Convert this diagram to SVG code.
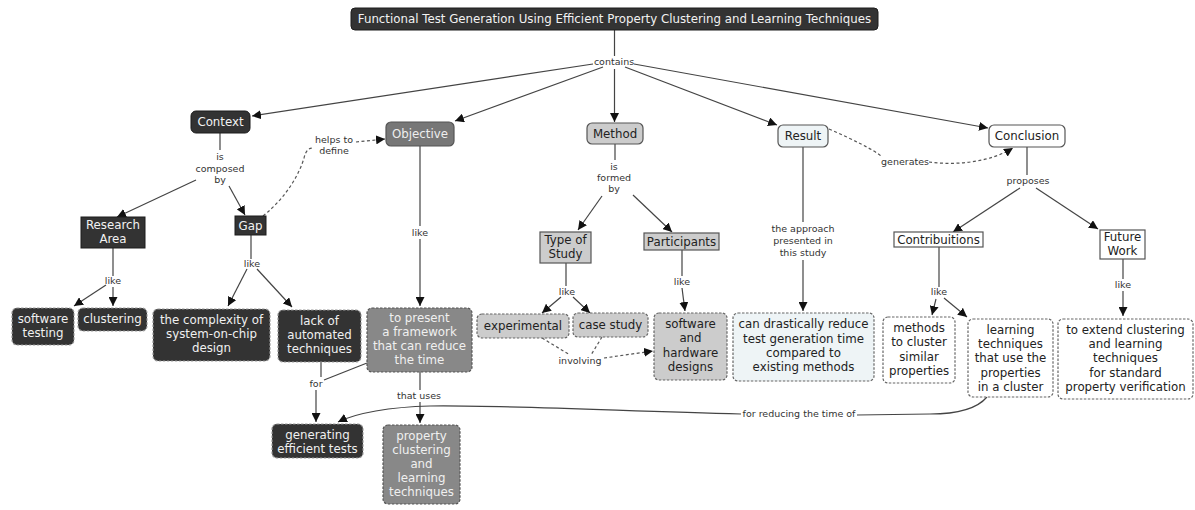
<svg xmlns="http://www.w3.org/2000/svg" width="1195" height="510" viewBox="0 0 1195 510">
  <defs>
    <marker id="arrow" viewBox="0 0 10 10" refX="10" refY="5" markerWidth="9" markerHeight="9" markerUnits="userSpaceOnUse" orient="auto">
      <path d="M0,0 L10,5 L0,10 z" fill="#111"/>
    </marker>
    <style>
      text { font-family: "DejaVu Sans", Verdana, sans-serif; text-anchor: middle; }
      .nt { font-size: 11.8px; }
      .lbl { font-size: 9.5px; fill: #333; }
      .link { fill: none; stroke: #444; stroke-width: 1.2; }
      .dash { fill: none; stroke: #555; stroke-width: 1.2; stroke-dasharray: 3 2.5; }
      .dark rect { fill: #333; stroke: #1c1c1c; stroke-width: 1; }
      .dark text { fill: #f2f2f2; }
      .darkleaf rect { fill: #333; stroke: #999; stroke-width: 1.2; stroke-dasharray: 2.5 1.5; }
      .darkleaf text { fill: #f0f0f0; }
      .mid rect { fill: #777; stroke: #555; stroke-width: 1.2; }
      .mid text { fill: #eee; }
      .midleaf rect { fill: #888; stroke: #555; stroke-width: 1.2; stroke-dasharray: 2.5 1.5; }
      .midleaf text { fill: #f0f0f0; }
      .light rect { fill: #ccc; stroke: #555; stroke-width: 1.2; }
      .light text { fill: #222; }
      .lightleaf rect { fill: #ccc; stroke: #666; stroke-width: 1.2; stroke-dasharray: 2.5 1.5; }
      .lightleaf text { fill: #222; }
      .pale rect { fill: #eef4f6; stroke: #555; stroke-width: 1.2; }
      .pale text { fill: #222; }
      .paleleaf rect { fill: #eef4f6; stroke: #666; stroke-width: 1.2; stroke-dasharray: 2.5 1.5; }
      .paleleaf text { fill: #222; }
      .white rect { fill: #fff; stroke: #555; stroke-width: 1.2; }
      .white text { fill: #222; }
      .whiteleaf rect { fill: #fff; stroke: #666; stroke-width: 1.2; stroke-dasharray: 2.5 1.5; }
      .whiteleaf text { fill: #222; }
    </style>
  </defs>
  <rect width="1195" height="510" fill="#fff"/>

  <!-- connectors and linking phrases -->
  <g id="connectors">
    <!-- contains -->
    <path class="link" d="M614.5,30 V56"/>
    <path class="link" d="M593,64 L252,116" marker-end="url(#arrow)"/>
    <path class="link" d="M603,67 L455,121" marker-end="url(#arrow)"/>
    <path class="link" d="M614.5,69 V122" marker-end="url(#arrow)"/>
    <path class="link" d="M625,67 L777,125" marker-end="url(#arrow)"/>
    <path class="link" d="M634,64 L988,128" marker-end="url(#arrow)"/>
    <text class="lbl" x="614" y="65">contains</text>

    <!-- Context: is composed by -->
    <path class="link" d="M220,133 V150"/>
    <path class="link" d="M196,180 L117,217" marker-end="url(#arrow)"/>
    <path class="link" d="M229,186 L245,215" marker-end="url(#arrow)"/>
    <text class="lbl" x="220" y="160">is</text>
    <text class="lbl" x="220" y="172">composed</text>
    <text class="lbl" x="220" y="183">by</text>

    <!-- Gap helps to define Objective -->
    <path class="dash" d="M263,216 C288,196 300,172 304,158 C306,150 309,148 313,148"/>
    <path class="dash" d="M356,142 L385,139" marker-end="url(#arrow)"/>
    <text class="lbl" x="334" y="143">helps to</text>
    <text class="lbl" x="334" y="154">define</text>

    <!-- Research Area like -->
    <path class="link" d="M113,248 V276"/>
    <path class="link" d="M113,287 V306" marker-end="url(#arrow)"/>
    <path class="link" d="M106,285 L74,306" marker-end="url(#arrow)"/>
    <text class="lbl" x="113" y="284">like</text>

    <!-- Gap like -->
    <path class="link" d="M251,235 V259"/>
    <path class="link" d="M247,269 L228,306" marker-end="url(#arrow)"/>
    <path class="link" d="M257,269 L292,307" marker-end="url(#arrow)"/>
    <text class="lbl" x="252" y="267">like</text>

    <!-- for generating efficient tests -->
    <path class="link" d="M321,362 V377"/>
    <path class="link" d="M367,363 L324,380"/>
    <path class="link" d="M316,390 V422" marker-end="url(#arrow)"/>
    <text class="lbl" x="316" y="387">for</text>

    <!-- Objective like -->
    <path class="link" d="M420,146 V226"/>
    <path class="link" d="M420,239 V306" marker-end="url(#arrow)"/>
    <text class="lbl" x="420" y="236">like</text>

    <!-- that uses -->
    <path class="link" d="M420,372 V390"/>
    <path class="link" d="M420,402 V423" marker-end="url(#arrow)"/>
    <text class="lbl" x="419" y="399">that uses</text>

    <!-- Method is formed by -->
    <path class="link" d="M615,144 V160"/>
    <path class="link" d="M602,196 L578,230" marker-end="url(#arrow)"/>
    <path class="link" d="M633,195 L672,232" marker-end="url(#arrow)"/>
    <text class="lbl" x="614" y="170">is</text>
    <text class="lbl" x="614" y="181">formed</text>
    <text class="lbl" x="614" y="192">by</text>

    <!-- Type of Study like -->
    <path class="link" d="M566,263 V286"/>
    <path class="link" d="M561,297 L542,313" marker-end="url(#arrow)"/>
    <path class="link" d="M573,297 L590,313" marker-end="url(#arrow)"/>
    <text class="lbl" x="567" y="295">like</text>

    <!-- Participants like -->
    <path class="link" d="M682,250 V276"/>
    <path class="link" d="M682,288 L685,311" marker-end="url(#arrow)"/>
    <text class="lbl" x="682" y="285">like</text>

    <!-- involving -->
    <path class="dash" d="M542,338 L570,355"/>
    <path class="dash" d="M602,337 L591,355"/>
    <path class="dash" d="M604,358 L653,351" marker-end="url(#arrow)"/>
    <text class="lbl" x="580" y="364">involving</text>

    <!-- Result: the approach presented in this study -->
    <path class="link" d="M803,147 V222"/>
    <path class="link" d="M803,260 V311" marker-end="url(#arrow)"/>
    <text class="lbl" x="803" y="232">the approach</text>
    <text class="lbl" x="803" y="244">presented in</text>
    <text class="lbl" x="803" y="256">this study</text>

    <!-- Result generates Conclusion -->
    <path class="dash" d="M829,129 C852,139 874,150 881,156"/>
    <path class="dash" d="M929,162 C960,166 992,161 1013,148" marker-end="url(#arrow)"/>
    <text class="lbl" x="905" y="165">generates</text>

    <!-- Conclusion proposes -->
    <path class="link" d="M1027,147 V175"/>
    <path class="link" d="M1020,188 L953,232" marker-end="url(#arrow)"/>
    <path class="link" d="M1036,188 L1098,229" marker-end="url(#arrow)"/>
    <text class="lbl" x="1028" y="184">proposes</text>

    <!-- Contribuitions like -->
    <path class="link" d="M939,247 V287"/>
    <path class="link" d="M936,299 L932,315" marker-end="url(#arrow)"/>
    <path class="link" d="M944,298 L967,317" marker-end="url(#arrow)"/>
    <text class="lbl" x="939" y="295">like</text>

    <!-- Future Work like -->
    <path class="link" d="M1123,259 V279"/>
    <path class="link" d="M1123,291 V316" marker-end="url(#arrow)"/>
    <text class="lbl" x="1123" y="288">like</text>

    <!-- for reducing the time of -->
    <path class="link" d="M987,397 C976,410 955,414 930,414 L857,415"/>
    <path class="link" d="M741,414 C600,410 500,405 430,406 C390,407 356,413 338,422" marker-end="url(#arrow)"/>
    <text class="lbl" x="799" y="417">for reducing the time of</text>
  </g>

  <!-- title -->
  <g id="title" class="dark">
    <rect x="351" y="8" width="527" height="22" rx="4"/>
    <text class="nt" x="614.5" y="23">Functional Test Generation Using Efficient Property Clustering and Learning Techniques</text>
  </g>

  <!-- main sections -->
  <g id="context" class="dark">
    <rect x="191" y="111" width="59" height="22" rx="5"/>
    <text class="nt" x="220.5" y="126">Context</text>
  </g>
  <g id="objective" class="mid">
    <rect x="386" y="122" width="68" height="24" rx="5"/>
    <text class="nt" x="420" y="138">Objective</text>
  </g>
  <g id="method" class="light">
    <rect x="587" y="123" width="56" height="21" rx="5"/>
    <text class="nt" x="615" y="138">Method</text>
  </g>
  <g id="result" class="pale">
    <rect x="778" y="125" width="50" height="22" rx="5"/>
    <text class="nt" x="803" y="140">Result</text>
  </g>
  <g id="conclusion" class="white">
    <rect x="989" y="125" width="76" height="22" rx="5"/>
    <text class="nt" x="1027" y="140">Conclusion</text>
  </g>

  <!-- context branch -->
  <g id="research-area" class="dark">
    <rect x="81" y="217" width="64" height="31"/>
    <text class="nt" x="113" y="229">Research</text>
    <text class="nt" x="113" y="243">Area</text>
  </g>
  <g id="gap" class="dark">
    <rect x="235" y="216" width="31" height="19"/>
    <text class="nt" x="250.5" y="230">Gap</text>
  </g>
  <g id="software-testing" class="darkleaf">
    <rect x="12" y="308" width="62" height="37" rx="5"/>
    <text class="nt" x="43" y="323">software</text>
    <text class="nt" x="43" y="337">testing</text>
  </g>
  <g id="clustering" class="darkleaf">
    <rect x="78" y="308" width="69" height="23" rx="5"/>
    <text class="nt" x="112.5" y="323">clustering</text>
  </g>
  <g id="soc-complexity" class="darkleaf">
    <rect x="153" y="309" width="117" height="52" rx="5"/>
    <text class="nt" x="211.5" y="324">the complexity of</text>
    <text class="nt" x="211.5" y="338">system-on-chip</text>
    <text class="nt" x="211.5" y="352">design</text>
  </g>
  <g id="lack-automation" class="darkleaf">
    <rect x="278" y="310" width="83" height="52" rx="5"/>
    <text class="nt" x="319.5" y="325">lack of</text>
    <text class="nt" x="319.5" y="339">automated</text>
    <text class="nt" x="319.5" y="353">techniques</text>
  </g>
  <g id="efficient-tests" class="darkleaf">
    <rect x="272" y="424" width="91" height="34" rx="5"/>
    <text class="nt" x="317.5" y="439">generating</text>
    <text class="nt" x="317.5" y="453">efficient tests</text>
  </g>

  <!-- objective branch -->
  <g id="framework" class="midleaf">
    <rect x="367" y="308" width="105" height="64" rx="5"/>
    <text class="nt" x="419.5" y="322">to present</text>
    <text class="nt" x="419.5" y="336">a framework</text>
    <text class="nt" x="419.5" y="350">that can reduce</text>
    <text class="nt" x="419.5" y="364">the time</text>
  </g>
  <g id="clustering-learning" class="midleaf">
    <rect x="383" y="425" width="77" height="79" rx="5"/>
    <text class="nt" x="421.5" y="440">property</text>
    <text class="nt" x="421.5" y="454">clustering</text>
    <text class="nt" x="421.5" y="468">and</text>
    <text class="nt" x="421.5" y="482">learning</text>
    <text class="nt" x="421.5" y="496">techniques</text>
  </g>

  <!-- method branch -->
  <g id="type-of-study" class="light">
    <rect x="540" y="232" width="51" height="31"/>
    <text class="nt" x="565.5" y="244">Type of</text>
    <text class="nt" x="565.5" y="258">Study</text>
  </g>
  <g id="participants" class="light">
    <rect x="644" y="233" width="75" height="17"/>
    <text class="nt" x="681.5" y="246">Participants</text>
  </g>
  <g id="experimental" class="lightleaf">
    <rect x="477" y="314" width="92" height="24" rx="5"/>
    <text class="nt" x="523" y="330">experimental</text>
  </g>
  <g id="case-study" class="lightleaf">
    <rect x="573" y="313" width="75" height="24" rx="5"/>
    <text class="nt" x="610.5" y="329">case study</text>
  </g>
  <g id="designs" class="lightleaf">
    <rect x="654" y="313" width="73" height="67" rx="5"/>
    <text class="nt" x="690.5" y="328">software</text>
    <text class="nt" x="690.5" y="342">and</text>
    <text class="nt" x="690.5" y="357">hardware</text>
    <text class="nt" x="690.5" y="371">designs</text>
  </g>

  <!-- result branch -->
  <g id="time-reduction" class="paleleaf">
    <rect x="733" y="313" width="141" height="68" rx="5"/>
    <text class="nt" x="803.5" y="328">can drastically reduce</text>
    <text class="nt" x="803.5" y="343">test generation time</text>
    <text class="nt" x="803.5" y="357">compared to</text>
    <text class="nt" x="803.5" y="371">existing methods</text>
  </g>

  <!-- conclusion branch -->
  <g id="contribuitions" class="white">
    <rect x="894" y="232" width="89" height="15"/>
    <text class="nt" x="938.5" y="244">Contribuitions</text>
  </g>
  <g id="future-work" class="white">
    <rect x="1100" y="230" width="45" height="29"/>
    <text class="nt" x="1122.5" y="241">Future</text>
    <text class="nt" x="1122.5" y="255">Work</text>
  </g>
  <g id="cluster-methods" class="whiteleaf">
    <rect x="883" y="317" width="72" height="66" rx="5"/>
    <text class="nt" x="919" y="332">methods</text>
    <text class="nt" x="919" y="346">to cluster</text>
    <text class="nt" x="919" y="361">similar</text>
    <text class="nt" x="919" y="375">properties</text>
  </g>
  <g id="learning-techniques" class="whiteleaf">
    <rect x="968" y="319" width="85" height="78" rx="5"/>
    <text class="nt" x="1010.5" y="334">learning</text>
    <text class="nt" x="1010.5" y="348">techniques</text>
    <text class="nt" x="1010.5" y="362">that use the</text>
    <text class="nt" x="1010.5" y="377">properties</text>
    <text class="nt" x="1010.5" y="391">in a cluster</text>
  </g>
  <g id="extension" class="whiteleaf">
    <rect x="1058" y="319" width="135" height="80" rx="5"/>
    <text class="nt" x="1125.5" y="334">to extend clustering</text>
    <text class="nt" x="1125.5" y="348">and learning</text>
    <text class="nt" x="1125.5" y="362">techniques</text>
    <text class="nt" x="1125.5" y="377">for standard</text>
    <text class="nt" x="1125.5" y="391">property verification</text>
  </g>
</svg>
